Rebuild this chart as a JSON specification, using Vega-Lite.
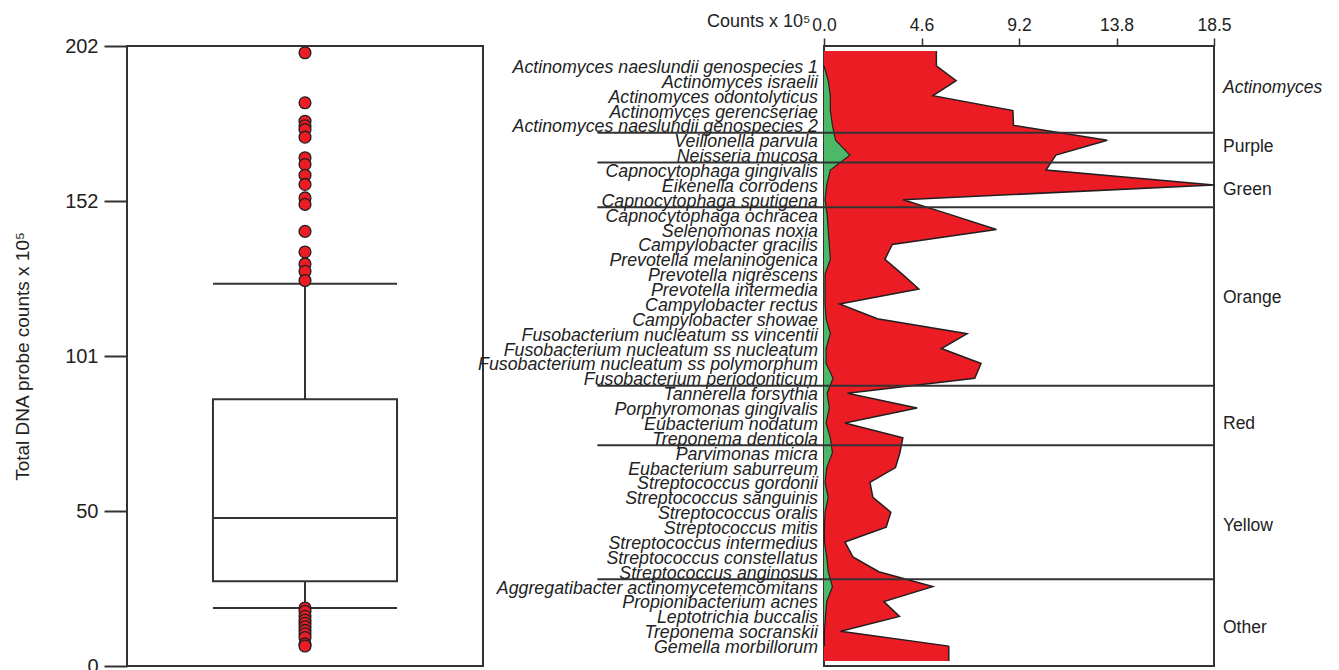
{
  "$schema": "https://vega.github.io/schema/vega-lite/v6.json",
  "padding": {"left": 12, "top": 11, "right": 5, "bottom": 0},
  "background": "white",
  "config": {
    "font": "Liberation Sans",
    "view": {"stroke": "#333333", "strokeWidth": 2},
    "axis": {"labelColor": "#222222", "titleColor": "#222222", "tickColor": "#333333", "grid": false, "domain": false, "labelFlush": false}
  },
  "datasets": {
    "species": [
      {"i": 0, "species": "Actinomyces naeslundii genospecies 1", "total": 5.33, "green": 0.0},
      {"i": 1, "species": "Actinomyces israelii", "total": 6.27, "green": 0.2},
      {"i": 2, "species": "Actinomyces odontolyticus", "total": 5.17, "green": 0.3},
      {"i": 3, "species": "Actinomyces gerencseriae", "total": 8.96, "green": 0.3},
      {"i": 4, "species": "Actinomyces naeslundii genospecies 2", "total": 8.99, "green": 0.4},
      {"i": 5, "species": "Veillonella parvula", "total": 13.44, "green": 0.55},
      {"i": 6, "species": "Neisseria mucosa", "total": 11.0, "green": 1.23},
      {"i": 7, "species": "Capnocytophaga gingivalis", "total": 10.53, "green": 0.3},
      {"i": 8, "species": "Eikenella corrodens", "total": 18.5, "green": 0.13},
      {"i": 9, "species": "Capnocytophaga  sputigena", "total": 3.75, "green": 0.05},
      {"i": 10, "species": "Capnocytophaga ochracea", "total": 6.0, "green": 0.15},
      {"i": 11, "species": "Selenomonas noxia", "total": 8.18, "green": 0.2},
      {"i": 12, "species": "Campylobacter gracilis", "total": 3.24, "green": 0.25},
      {"i": 13, "species": "Prevotella melaninogenica", "total": 2.89, "green": 0.3},
      {"i": 14, "species": "Prevotella nigrescens", "total": 3.71, "green": 0.05},
      {"i": 15, "species": "Prevotella intermedia", "total": 4.5, "green": 0.05},
      {"i": 16, "species": "Campylobacter rectus", "total": 0.74, "green": 0.05},
      {"i": 17, "species": "Campylobacter showae", "total": 2.53, "green": 0.1},
      {"i": 18, "species": "Fusobacterium nucleatum ss vincentii", "total": 6.79, "green": 0.3},
      {"i": 19, "species": "Fusobacterium nucleatum ss nucleatum", "total": 5.57, "green": 0.1},
      {"i": 20, "species": "Fusobacterium nucleatum ss polymorphum", "total": 7.45, "green": 0.1},
      {"i": 21, "species": "Fusobacterium periodonticum", "total": 7.15, "green": 0.43},
      {"i": 22, "species": "Tannerella forsythia", "total": 1.11, "green": 0.15},
      {"i": 23, "species": "Porphyromonas gingivalis", "total": 4.42, "green": 0.25},
      {"i": 24, "species": "Eubacterium nodatum", "total": 0.99, "green": 0.1},
      {"i": 25, "species": "Treponema denticola", "total": 3.74, "green": 0.3},
      {"i": 26, "species": "Parvimonas micra", "total": 3.6, "green": 0.4},
      {"i": 27, "species": "Eubacterium saburreum", "total": 3.39, "green": 0.13},
      {"i": 28, "species": "Streptococcus gordonii", "total": 2.18, "green": 0.05},
      {"i": 29, "species": "Streptococcus sanguinis", "total": 2.32, "green": 0.2},
      {"i": 30, "species": "Streptococcus oralis", "total": 3.17, "green": 0.05},
      {"i": 31, "species": "Streptococcus mitis", "total": 2.95, "green": 0.02},
      {"i": 32, "species": "Streptococcus intermedius", "total": 0.99, "green": 0.02},
      {"i": 33, "species": "Streptococcus constellatus", "total": 1.37, "green": 0.13},
      {"i": 34, "species": "Streptococcus anginosus", "total": 2.6, "green": 0.2},
      {"i": 35, "species": "Aggregatibacter actinomycetemcomitans", "total": 5.16, "green": 0.4},
      {"i": 36, "species": "Propionibacterium acnes", "total": 2.84, "green": 0.13},
      {"i": 37, "species": "Leptotrichia buccalis", "total": 3.58, "green": 0.07},
      {"i": 38, "species": "Treponema socranskii", "total": 0.79, "green": 0.02},
      {"i": 39, "species": "Gemella morbillorum", "total": 5.92, "green": 0.02}
    ],
    "box": [
      {"g": "all", "lo": 18.9, "q1": 27.6, "median": 48.2, "q3": 86.9, "hi": 124.5}
    ],
    "outliers": [
      {"g": "all", "value": 199.8}, {"g": "all", "value": 183.5}, {"g": "all", "value": 177.5},
      {"g": "all", "value": 176.0}, {"g": "all", "value": 174.8}, {"g": "all", "value": 172.3},
      {"g": "all", "value": 165.6}, {"g": "all", "value": 163.4}, {"g": "all", "value": 159.9},
      {"g": "all", "value": 156.9}, {"g": "all", "value": 152.5}, {"g": "all", "value": 150.4},
      {"g": "all", "value": 141.6}, {"g": "all", "value": 134.9}, {"g": "all", "value": 131.0},
      {"g": "all", "value": 128.6}, {"g": "all", "value": 125.6},
      {"g": "all", "value": 18.9}, {"g": "all", "value": 17.8}, {"g": "all", "value": 16.2},
      {"g": "all", "value": 15.0}, {"g": "all", "value": 13.9}, {"g": "all", "value": 12.8},
      {"g": "all", "value": 11.6}, {"g": "all", "value": 10.5}, {"g": "all", "value": 9.3},
      {"g": "all", "value": 7.2}, {"g": "all", "value": 6.5}
    ],
    "separators": [
      {"after": "Actinomyces", "sep": 4.5},
      {"after": "Purple", "sep": 6.5},
      {"after": "Green", "sep": 9.5},
      {"after": "Orange", "sep": 21.5},
      {"after": "Red", "sep": 25.5},
      {"after": "Yellow", "sep": 34.5}
    ],
    "groups": [
      {"group": "Actinomyces", "pos": 1.51},
      {"group": "Purple", "pos": 5.48},
      {"group": "Green", "pos": 8.33},
      {"group": "Orange", "pos": 15.6},
      {"group": "Red", "pos": 24.07},
      {"group": "Yellow", "pos": 30.9},
      {"group": "Other", "pos": 37.8}
    ]
  },
  "bounds": "flush",
  "spacing": 341,
  "hconcat": [
    {
      "width": 356,
      "height": 620,
      "layer": [
        {
          "data": {"name": "box"},
          "mark": {"type": "rule", "color": "#333333", "strokeWidth": 2},
          "encoding": {
            "x": {"field": "g", "type": "nominal", "scale": {"paddingOuter": 0.467, "paddingInner": 0}, "axis": null},
            "y": {
              "field": "lo", "type": "quantitative",
              "scale": {"domain": [0, 202], "nice": false, "zero": true},
              "axis": {
                "title": "Total DNA probe counts x 10⁵",
                "values": [0, 50.5, 101, 151.5, 202],
                "labelExpr": "datum.value == 50.5 ? '50' : format(datum.value, 'd')",
                "tickSize": 23, "tickWidth": 2,
                "labelFontSize": 20, "labelPadding": 6,
                "titleFontSize": 19, "titleFontWeight": "normal", "titlePadding": 32
              }
            },
            "y2": {"field": "hi"}
          }
        },
        {
          "data": {"name": "box"},
          "mark": {"type": "bar", "fill": "white", "stroke": "#333333", "strokeWidth": 2},
          "encoding": {
            "x": {"field": "g", "type": "nominal"},
            "y": {"field": "q1", "type": "quantitative"},
            "y2": {"field": "q3"}
          }
        },
        {
          "data": {"name": "box"},
          "mark": {"type": "bar", "fill": "white", "stroke": "#333333", "strokeWidth": 2},
          "encoding": {
            "x": {"field": "g", "type": "nominal"},
            "y": {"field": "median", "type": "quantitative"},
            "y2": {"field": "median"}
          }
        },
        {
          "data": {"name": "box"},
          "mark": {"type": "bar", "fill": "white", "stroke": "#333333", "strokeWidth": 2},
          "encoding": {
            "x": {"field": "g", "type": "nominal"},
            "y": {"field": "lo", "type": "quantitative"},
            "y2": {"field": "lo"}
          }
        },
        {
          "data": {"name": "box"},
          "mark": {"type": "bar", "fill": "white", "stroke": "#333333", "strokeWidth": 2},
          "encoding": {
            "x": {"field": "g", "type": "nominal"},
            "y": {"field": "hi", "type": "quantitative"},
            "y2": {"field": "hi"}
          }
        },
        {
          "data": {"name": "outliers"},
          "mark": {"type": "circle", "size": 140, "fill": "#ec1c24", "stroke": "#231f20", "strokeWidth": 1.3, "opacity": 1},
          "encoding": {
            "x": {"field": "g", "type": "nominal"},
            "y": {"field": "value", "type": "quantitative"}
          }
        }
      ]
    },
    {
      "width": 390,
      "height": 620,
      "layer": [
        {
          "data": {"name": "species"},
          "mark": {"type": "area", "orient": "horizontal", "fill": "#ec1c24", "opacity": 1},
          "encoding": {
            "x": {
              "field": "total", "type": "quantitative",
              "scale": {"domain": [0, 18.5], "nice": false},
              "axis": {
                "orient": "top",
                "title": "Counts x 10⁵",
                "values": [0, 4.625, 9.25, 13.875, 18.5],
                "labelExpr": "format(floor(datum.value * 10) / 10, '.1f')",
                "tickSize": 8, "tickWidth": 1.5,
                "labelFontSize": 17.5, "labelPadding": 4,
                "titleFontSize": 18, "titleFontWeight": "normal",
                "titleAngle": 0, "titleAlign": "right", "titleBaseline": "alphabetic",
                "titleX": -14, "titleY": -20
              }
            },
            "y": {"field": "i", "type": "quantitative", "scale": {"domain": [-1, 40], "reverse": true, "nice": false, "zero": false}, "axis": null}
          }
        },
        {
          "data": {"name": "species"},
          "transform": [{"filter": "datum.i === 0"}],
          "mark": {"type": "bar", "fill": "#ec1c24", "opacity": 1, "orient": "horizontal"},
          "encoding": {
            "x": {"field": "total", "type": "quantitative"},
            "x2": {"datum": 0},
            "y": {"field": "i", "type": "quantitative"},
            "y2": {"datum": -1}
          }
        },
        {
          "data": {"name": "species"},
          "transform": [{"filter": "datum.i === 39"}],
          "mark": {"type": "bar", "fill": "#ec1c24", "opacity": 1, "orient": "horizontal"},
          "encoding": {
            "x": {"field": "total", "type": "quantitative"},
            "x2": {"datum": 0},
            "y": {"field": "i", "type": "quantitative"},
            "y2": {"datum": 40}
          }
        },
        {
          "data": {"name": "species"},
          "mark": {"type": "line", "orient": "horizontal", "color": "#231f20", "strokeWidth": 1.5},
          "encoding": {
            "x": {"field": "total", "type": "quantitative"},
            "y": {"field": "i", "type": "quantitative"},
            "order": {"field": "i", "type": "quantitative"}
          }
        },
        {
          "data": {"name": "species"},
          "transform": [{"filter": "datum.i === 0"}],
          "mark": {"type": "rule", "color": "#231f20", "strokeWidth": 1.5},
          "encoding": {
            "x": {"field": "total", "type": "quantitative"},
            "y": {"field": "i", "type": "quantitative"},
            "y2": {"datum": -1}
          }
        },
        {
          "data": {"name": "species"},
          "transform": [{"filter": "datum.i === 39"}],
          "mark": {"type": "rule", "color": "#231f20", "strokeWidth": 1.5},
          "encoding": {
            "x": {"field": "total", "type": "quantitative"},
            "y": {"field": "i", "type": "quantitative"},
            "y2": {"datum": 40}
          }
        },
        {
          "data": {"name": "species"},
          "mark": {"type": "area", "orient": "horizontal", "fill": "#4cb868", "opacity": 1},
          "encoding": {
            "x": {"field": "green", "type": "quantitative"},
            "y": {"field": "i", "type": "quantitative"}
          }
        },
        {
          "data": {"name": "species"},
          "mark": {"type": "line", "orient": "horizontal", "color": "#231f20", "strokeWidth": 1.2},
          "encoding": {
            "x": {"field": "green", "type": "quantitative"},
            "y": {"field": "i", "type": "quantitative"},
            "order": {"field": "i", "type": "quantitative"}
          }
        },
        {
          "data": {"name": "separators"},
          "mark": {"type": "rule", "color": "#333333", "strokeWidth": 2},
          "encoding": {
            "y": {"field": "sep", "type": "quantitative"},
            "x": {"datum": -10.75, "type": "quantitative"},
            "x2": {"datum": 18.5}
          }
        },
        {
          "data": {"name": "species"},
          "mark": {"type": "text", "align": "right", "baseline": "middle", "dx": -6, "dy": 2, "fontSize": 17.8, "fontStyle": "italic", "color": "#222222"},
          "encoding": {
            "x": {"datum": 0, "type": "quantitative"},
            "y": {"field": "i", "type": "quantitative"},
            "text": {"field": "species"}
          }
        },
        {
          "data": {"name": "groups"},
          "transform": [{"filter": "datum.group === 'Actinomyces'"}],
          "mark": {"type": "text", "align": "left", "baseline": "middle", "dx": 9, "fontSize": 17.5, "fontStyle": "italic", "color": "#222222"},
          "encoding": {
            "x": {"datum": 18.5, "type": "quantitative"},
            "y": {"field": "pos", "type": "quantitative"},
            "text": {"field": "group"}
          }
        },
        {
          "data": {"name": "groups"},
          "transform": [{"filter": "datum.group !== 'Actinomyces'"}],
          "mark": {"type": "text", "align": "left", "baseline": "middle", "dx": 9, "fontSize": 17.5, "color": "#222222"},
          "encoding": {
            "x": {"datum": 18.5, "type": "quantitative"},
            "y": {"field": "pos", "type": "quantitative"},
            "text": {"field": "group"}
          }
        }
      ]
    }
  ]
}
